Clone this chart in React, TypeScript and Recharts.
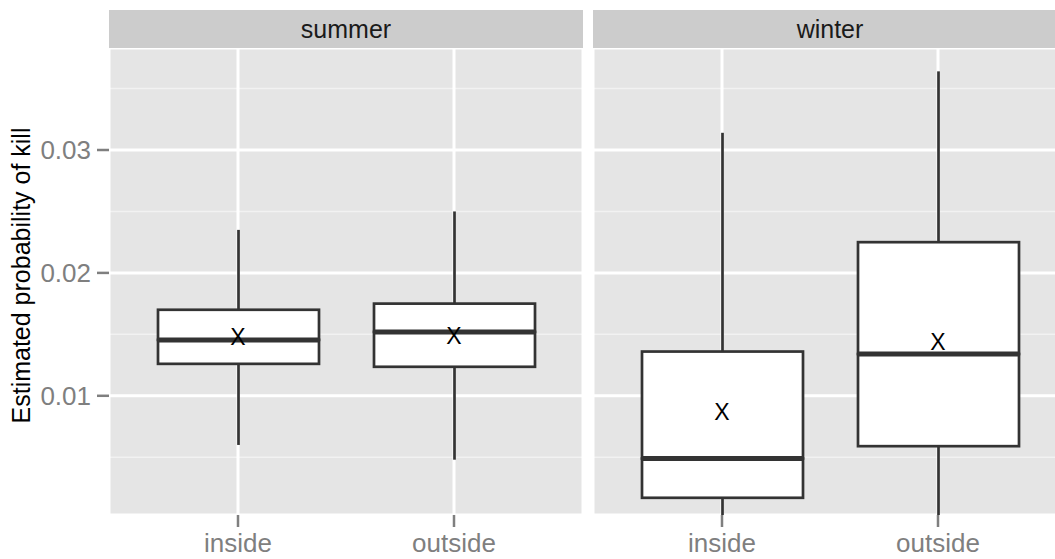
import React from "react";
import {
  ComposedChart,
  Bar,
  Scatter,
  XAxis,
  YAxis,
  CartesianGrid,
} from "recharts";

const LOCATIONS = ["inside", "outside"];
const FACETS = ["summer", "winter"];

// five-number summaries + mean
const SUMMER_MIN = [0.006, 0.0048];
const SUMMER_Q1 = [0.0126, 0.01236];
const SUMMER_MED = [0.01455, 0.0152];
const SUMMER_Q3 = [0.017, 0.0175];
const SUMMER_MAX = [0.0235, 0.025];
const SUMMER_MEAN = [0.0148, 0.0149];

const WINTER_MIN = [0.0, 0.0];
const WINTER_Q1 = [0.0017, 0.0059];
const WINTER_MED = [0.0049, 0.0134];
const WINTER_Q3 = [0.0136, 0.0225];
const WINTER_MAX = [0.0314, 0.0364];
const WINTER_MEAN = [0.0087, 0.0144];

const Y_TICKS = [0.01, 0.02, 0.03];
const Y_MINOR = [0.005, 0.015, 0.025, 0.035];
const Y_DOMAIN = [0.0003, 0.0383];

const FONT = "'Liberation Sans', Arial, Helvetica, sans-serif";
const LINE = "#333333";
const AXIS_GREY = "#7F7F7F";

function buildRows(min: number[], q1: number[], med: number[], q3: number[], max: number[], mean: number[]) {
  return LOCATIONS.map((loc, i) => ({
    loc,
    base: min[i],
    lowW: q1[i] - min[i],
    boxLo: med[i] - q1[i],
    boxHi: q3[i] - med[i],
    upW: max[i] - q3[i],
    mean: mean[i],
  }));
}

const summerRows = buildRows(SUMMER_MIN, SUMMER_Q1, SUMMER_MED, SUMMER_Q3, SUMMER_MAX, SUMMER_MEAN);
const winterRows = buildRows(WINTER_MIN, WINTER_Q1, WINTER_MED, WINTER_Q3, WINTER_MAX, WINTER_MEAN);

const Empty = () => <g />;

const Whisker = (p: any) => (
  <line
    x1={p.x + p.width / 2}
    x2={p.x + p.width / 2}
    y1={p.y}
    y2={p.y + p.height}
    stroke={LINE}
    strokeWidth={2.7}
  />
);

const BoxLower = (p: any) => (
  <rect x={p.x} y={p.y} width={p.width} height={p.height} fill="#fff" stroke={LINE} strokeWidth={2.7} />
);

const BoxUpper = (p: any) => (
  <g>
    <rect x={p.x} y={p.y} width={p.width} height={p.height} fill="#fff" stroke={LINE} strokeWidth={2.7} />
    <line x1={p.x} x2={p.x + p.width} y1={p.y + p.height} y2={p.y + p.height} stroke={LINE} strokeWidth={5} />
  </g>
);

const MeanMark = (p: any) => (
  <text
    x={p.cx}
    y={p.cy}
    textAnchor="middle"
    dominantBaseline="central"
    fontFamily={FONT}
    fontSize={23}
    fill="#000"
  >
    X
  </text>
);

function Facet({ rows, showY, width, left }: { rows: any[]; showY: boolean; width: number; left: number }) {
  return (
    <div style={{ position: "absolute", left, top: 0 }}>
      <ComposedChart
        width={width}
        height={559}
        data={rows}
        margin={{ top: 48, right: 0, bottom: 0, left: 0 }}
        style={{ fontFamily: FONT }}
      >
        <CartesianGrid
          fill="#E5E5E5"
          stroke="#F2F2F2"
          strokeWidth={1.5}
          vertical={false}
          horizontalValues={Y_MINOR}
        />
        <CartesianGrid stroke="#FFFFFF" strokeWidth={3} />
        <XAxis
          dataKey="loc"
          padding={{ left: 21, right: 21 }}
          height={44}
          tickSize={12}
          tickMargin={7}
          axisLine={false}
          tickLine={{ stroke: AXIS_GREY, strokeWidth: 2.5 }}
          tick={{ fill: AXIS_GREY, fontSize: 26, fontFamily: FONT }}
        />
        <YAxis
          hide={!showY}
          width={109}
          domain={Y_DOMAIN}
          allowDataOverflow
          ticks={Y_TICKS}
          tickFormatter={(v: number) => v.toFixed(2)}
          tickSize={12}
          tickMargin={6}
          axisLine={false}
          tickLine={{ stroke: AXIS_GREY, strokeWidth: 2.5 }}
          tick={{ fill: AXIS_GREY, fontSize: 26, fontFamily: FONT }}
          label={{
            value: "Estimated probability of kill",
            angle: -90,
            position: "insideLeft",
            offset: 0,
            dx: 21,
            dy: -6,
            style: { fill: "#000", fontSize: 25, fontFamily: FONT, textAnchor: "middle" },
          }}
        />
        <Bar dataKey="base" stackId="s" barSize={161} shape={<Empty />} isAnimationActive={false} />
        <Bar dataKey="lowW" stackId="s" barSize={161} shape={<Whisker />} isAnimationActive={false} />
        <Bar dataKey="boxLo" stackId="s" barSize={161} shape={<BoxLower />} isAnimationActive={false} />
        <Bar dataKey="boxHi" stackId="s" barSize={161} shape={<BoxUpper />} isAnimationActive={false} />
        <Bar dataKey="upW" stackId="s" barSize={161} shape={<Whisker />} isAnimationActive={false} />
        <Scatter dataKey="mean" shape={<MeanMark />} isAnimationActive={false} />
      </ComposedChart>
    </div>
  );
}

function Strip({ label, left }: { label: string; left: number }) {
  return (
    <div
      style={{
        position: "absolute",
        left,
        top: 10,
        width: 474,
        height: 38,
        background: "#CCCCCC",
        color: "#1A1A1A",
        fontFamily: FONT,
        fontSize: 25,
        lineHeight: "38px",
        textAlign: "center",
      }}
    >
      {label}
    </div>
  );
}

export default function App() {
  return (
    <div
      style={{
        position: "fixed",
        left: 0,
        top: 0,
        width: 1055,
        height: 559,
        overflow: "hidden",
        background: "#fff",
      }}
    >
      <Facet rows={summerRows} showY width={583} left={0} />
      <Facet rows={winterRows} showY={false} width={474} left={593} />
      <Strip label={FACETS[0]} left={109} />
      <Strip label={FACETS[1]} left={593} />
    </div>
  );
}
